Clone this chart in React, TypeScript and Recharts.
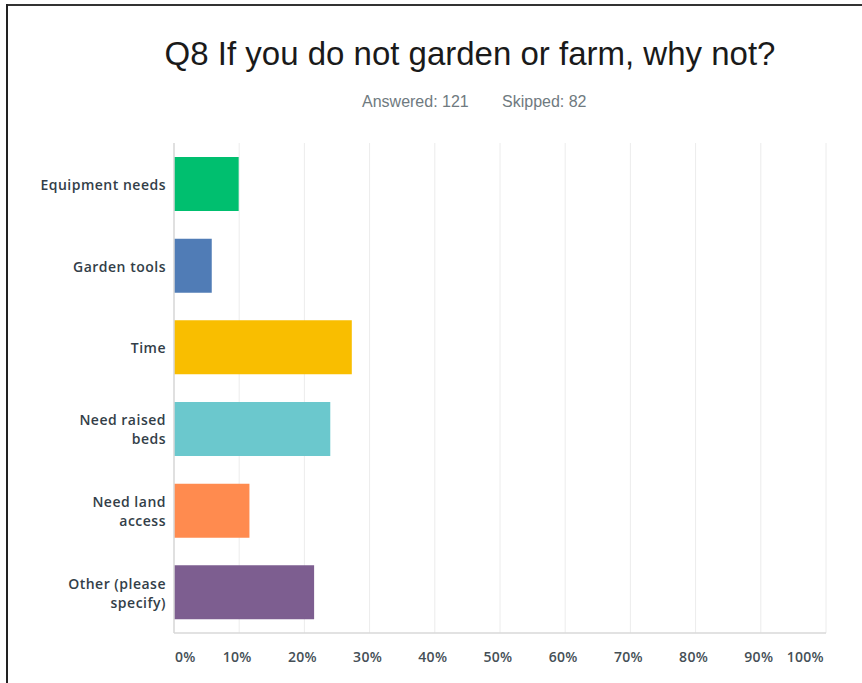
import React from 'react';
import { BarChart, Bar, Cell, XAxis, YAxis, CartesianGrid } from 'recharts';

// answer choices, top to bottom
const categories = [
  'Equipment needs',
  'Garden tools',
  'Time',
  'Need raised beds',
  'Need land access',
  'Other (please specify)',
];

// share of respondents, in percent
const percentages = [9.92, 5.79, 27.27, 23.97, 11.57, 21.49];

const barColors = ['#00bf6f', '#507cb6', '#f9be00', '#6bc8cd', '#ff8b4f', '#7d5e90'];

const xTicks = [0, 10, 20, 30, 40, 50, 60, 70, 80, 90, 100];

// wrapped label lines for the category axis
const labelLines: Record<string, string[]> = {
  'Need raised beds': ['Need raised', 'beds'],
  'Need land access': ['Need land', 'access'],
  'Other (please specify)': ['Other (please', 'specify)'],
};

const chartData = categories.map((name, i) => ({
  name,
  value: percentages[i],
  color: barColors[i],
}));

const labelFont = "'Open Sans', 'DejaVu Sans', sans-serif";

const CategoryTick = (props: any) => {
  const { x, y, payload } = props;
  const lines = labelLines[payload.value] || [payload.value];
  const lineHeight = 19;
  const startY = y - ((lines.length - 1) * lineHeight) / 2;
  return (
    <text
      x={x}
      y={startY}
      textAnchor="end"
      dominantBaseline="central"
      fontFamily={labelFont}
      fontWeight={600}
      fontSize={14}
      letterSpacing={0.5}
      fill="#333e48"
    >
      {lines.map((line, i) => (
        <tspan key={i} x={x} y={startY + i * lineHeight} dominantBaseline="central">
          {line}
        </tspan>
      ))}
    </text>
  );
};

const PercentTick = (props: any) => {
  const { x, y, payload } = props;
  const v = payload.value;
  const anchor = v === 0 ? 'start' : v === 100 ? 'end' : 'middle';
  return (
    <text
      x={v === 0 ? x + 1 : v === 100 ? x - 2 : x - 2}
      y={y + 15}
      textAnchor={anchor}
      dominantBaseline="central"
      fontFamily={labelFont}
      fontWeight={600}
      fontSize={14}
      letterSpacing={0.3}
      fill="#454f56"
    >
      {`${v}%`}
    </text>
  );
};

const App = () => {
  return (
    <div style={{ position: 'absolute', left: 0, top: 0, width: 862, height: 683, background: '#fff' }}>
      <svg
        width={862}
        height={683}
        style={{ position: 'absolute', left: 0, top: 0, pointerEvents: 'none' }}
      >
        {/* frame: top and left edges only */}
        <line x1={6} y1={5} x2={862} y2={5} stroke="#333" strokeWidth={2} />
        <line x1={7} y1={4} x2={7} y2={683} stroke="#222" strokeWidth={2} />
        <text
          x={470}
          y={53}
          textAnchor="middle"
          dominantBaseline="central"
          fontFamily="'Liberation Sans', Arial, sans-serif"
          fontSize={33}
          fill="#1a1a1a"
        >
          Q8 If you do not garden or farm, why not?
        </text>
        <text
          y={101}
          dominantBaseline="central"
          fontFamily="'Liberation Sans', Arial, sans-serif"
          fontSize={16}
          fill="#6f7a80"
        >
          <tspan x={362}>Answered: 121</tspan>
          <tspan x={502}>Skipped: 82</tspan>
        </text>
      </svg>
      <div style={{ position: 'absolute', left: 0, top: 0 }}>
        <BarChart
          width={862}
          height={683}
          data={chartData}
          layout="vertical"
          margin={{ top: 143, right: 36, left: 0, bottom: 0 }}
          barSize={54}
        >
          <CartesianGrid horizontal={false} stroke="#ececec" strokeWidth={1} />
          <XAxis
            type="number"
            domain={[0, 100]}
            ticks={xTicks}
            interval={0}
            height={50}
            tickLine={false}
            axisLine={{ stroke: '#d8d8d8', strokeWidth: 1.5 }}
            tick={<PercentTick />}
          />
          <YAxis
            type="category"
            dataKey="name"
            width={174}
            tickLine={false}
            tickSize={0}
            tickMargin={8}
            axisLine={{ stroke: '#d8d8d8', strokeWidth: 1.5 }}
            tick={<CategoryTick />}
          />
          <Bar dataKey="value" isAnimationActive={false}>
            {chartData.map((entry, index) => (
              <Cell key={`cell-${index}`} fill={entry.color} />
            ))}
          </Bar>
        </BarChart>
      </div>
    </div>
  );
};

export default App;
